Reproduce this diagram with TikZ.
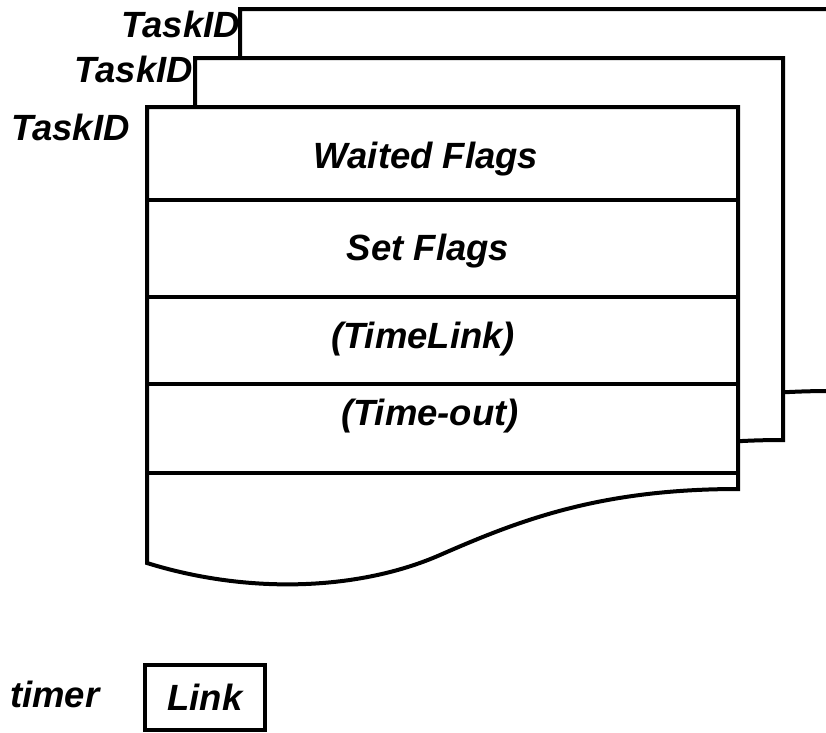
\documentclass[tikz,border=0pt]{standalone}
\usepackage{fontspec}
\setmainfont{Liberation Sans}
\usetikzlibrary{positioning}

\begin{document}
\begin{tikzpicture}[x=1pt, y=-1pt,
  recbox/.style={draw=black, fill=white, line width=4pt, line join=miter},
  sepline/.style={draw=black, line width=4pt},
  lbl/.style={font=\fontsize{36.5}{44}\selectfont\bfseries\itshape, inner sep=0pt},
  linkbox/.style={lbl, draw=black, line width=4pt, minimum width=120pt, minimum height=65pt},
]
\useasboundingbox (0,0) rectangle (826,732);
\clip (0,0) rectangle (826,732);
% three records, back to front
\foreach \dx/\dy/\rw in {93/9/591, 48/58/588, 0/107/591} {
  \begin{scope}[shift={(147+\dx,\dy)}]
    \draw[recbox] (0,456) -- (0,0) -- (\rw,0) -- (\rw,382)
      .. controls (453,382) and (373,413) .. (293,448)
      .. controls (213,483) and (103,488) .. (0,456) -- cycle;
  \end{scope}
}
\foreach \y in {200,297,384,473} {
  \draw[sepline] (147,\y) -- (738,\y);
}
\node[lbl, anchor=base] (waited)   at (426,168) {Waited Flags};
\node[lbl, anchor=base] (setflags) at (428,260) {Set Flags};
\node[lbl, anchor=base] (timelink) at (423,348) {(TimeLink)};
\node[lbl, anchor=base] (timeout)  at (430,425) {(Time-out)};
\node[lbl, anchor=base east] (taskc) at (240,37)  {TaskID};
\node[lbl, anchor=base east] (taskb) at (193,82)  {TaskID};
\node[lbl, anchor=base east] (taska) at (130,140) {TaskID};
\node[linkbox] (link) at (205,697.5) {Link};
\node[lbl, anchor=base west] (timer) at (10,707) {timer};
\end{tikzpicture}
\end{document}
